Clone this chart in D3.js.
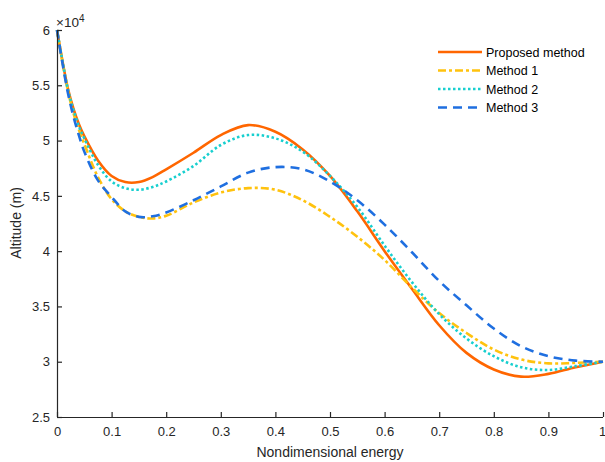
<!DOCTYPE html>
<html><head><meta charset="utf-8">
<script src="https://cdn.jsdelivr.net/npm/d3@7"></script>
<style>body{margin:0;background:#fff}svg{display:block}text{font-family:"Liberation Sans",Arial,sans-serif}</style>
</head><body><svg id="c" width="605" height="462"></svg>
<script>
const energy = [0,0.01,0.02,0.03,0.04,0.05,0.075,0.1,0.125,0.15,0.175,0.2,0.25,0.3,0.35,0.4,0.45,0.5,0.55,0.6,0.65,0.7,0.75,0.8,0.85,0.9,0.95,1];
const proposed = [6,5.72,5.47,5.29,5.15,5.04,4.82,4.68,4.625,4.625,4.67,4.74,4.89,5.05,5.14,5.08,4.92,4.68,4.36,4.0,3.66,3.33,3.08,2.93,2.865,2.89,2.95,3.0];
const method1 = [6,5.71,5.45,5.25,5.10,4.97,4.67,4.47,4.36,4.31,4.295,4.32,4.44,4.53,4.57,4.555,4.46,4.31,4.13,3.92,3.67,3.44,3.26,3.11,3.02,2.985,2.99,3.0];
const method2 = [6,5.72,5.46,5.28,5.13,5.02,4.78,4.63,4.57,4.555,4.58,4.63,4.77,4.96,5.05,5.02,4.90,4.68,4.40,4.05,3.72,3.43,3.21,3.05,2.95,2.925,2.96,3.0];
const method3 = [6,5.70,5.43,5.22,5.05,4.90,4.64,4.49,4.36,4.31,4.315,4.35,4.46,4.585,4.71,4.76,4.74,4.63,4.46,4.24,3.99,3.73,3.51,3.30,3.14,3.05,3.01,3.0];
const seriesNames = ["Proposed method","Method 1","Method 2","Method 3"];
const xTicks = [0,0.1,0.2,0.3,0.4,0.5,0.6,0.7,0.8,0.9,1];
const yTicks = [2.5,3,3.5,4,4.5,5,5.5,6];
const xLabel = "Nondimensional energy";
const yLabel = "Altitude (m)";

const series = [
  {name: seriesNames[0], values: proposed, color: "#ff6600", dash: null, w: 2.6},
  {name: seriesNames[1], values: method1, color: "#ffc20e", dash: "8,3,3,3", w: 2.6},
  {name: seriesNames[2], values: method2, color: "#17cfcf", dash: "2.5,2.5", w: 2.6},
  {name: seriesNames[3], values: method3, color: "#1f6fe0", dash: "9,6", w: 2.6}
];

const svg = d3.select("#c");
const x = d3.scaleLinear().domain([0,1]).range([57,603]);
const y = d3.scaleLinear().domain([2.5,6]).range([417,30]);
const axisColor = "#262626";

const line = d3.line().x((d,i)=>x(energy[i])).y(d=>y(d)).curve(d3.curveCatmullRom.alpha(0.5));

const g = svg.append("g");
series.forEach(s=>{
  g.append("path").attr("d", line(s.values)).attr("fill","none")
   .attr("stroke", s.color).attr("stroke-width", s.w)
   .attr("stroke-dasharray", s.dash);
});

// axes
const xa = svg.append("g").attr("transform","translate(0,417)")
  .call(d3.axisBottom(x).tickValues(xTicks).tickSize(-5).tickPadding(10).tickFormat(d3.format("")));
const ya = svg.append("g").attr("transform","translate(57,0)")
  .call(d3.axisLeft(y).tickValues(yTicks).tickSize(-5).tickPadding(7).tickFormat(d3.format("")));
[xa,ya].forEach(a=>{
  a.select(".domain").attr("stroke",axisColor).attr("stroke-width",1.2);
  a.selectAll(".tick line").attr("stroke",axisColor).attr("stroke-width",1.2);
  a.selectAll(".tick text").attr("fill",axisColor).style("font-size","13px").style("font-family","'Liberation Sans',Arial,sans-serif");
});
xa.selectAll(".domain").attr("d","M57,0.5H603");
ya.selectAll(".domain").attr("d","M0.5,30V417");
xa.selectAll(".tick text").filter(d=>d===1).attr("dx",-1);

svg.append("text").attr("x",330).attr("y",457).attr("text-anchor","middle")
  .attr("fill",axisColor).style("font-size","14px").text(xLabel);
svg.append("text").attr("transform","translate(21,223) rotate(-90)").attr("text-anchor","middle")
  .attr("fill",axisColor).style("font-size","14px").text(yLabel);
const ex = svg.append("text").attr("x",56).attr("y",27).attr("fill",axisColor).style("font-size","13.5px");
ex.append("tspan").text("\u00d710");
ex.append("tspan").attr("dy",-5).style("font-size","10px").text("4");

// legend
const lg = svg.append("g");
series.forEach((s,i)=>{
  const yy = 52 + i*18.5;
  lg.append("line").attr("x1",438).attr("x2",482).attr("y1",yy).attr("y2",yy)
    .attr("stroke",s.color).attr("stroke-width",s.w).attr("stroke-dasharray",s.dash);
  lg.append("text").attr("x",486).attr("y",yy+4.5).attr("fill","#000").style("font-size","12.5px").text(s.name);
});
</script></body></html>
